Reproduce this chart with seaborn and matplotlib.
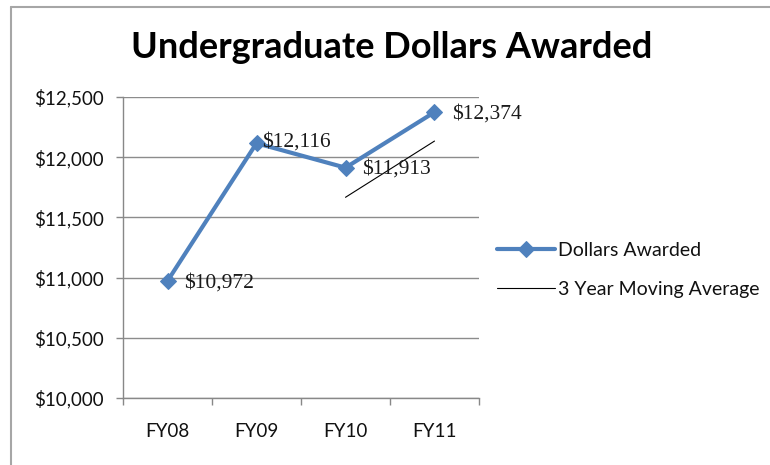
import matplotlib
matplotlib.use("Agg")
import matplotlib.pyplot as plt
import seaborn as sns
import pandas as pd
from matplotlib.lines import Line2D
from matplotlib.ticker import FuncFormatter

years = ["FY08", "FY09", "FY10", "FY11"]
dollars = [10972, 12116, 11913, 12374]
moving_avg_years = ["FY10", "FY11"]
moving_avg = [11667, 12134]
yticks = [10000, 10500, 11000, 11500, 12000, 12500]

sns.set_theme(style="white")
plt.rcParams['font.family'] = ['Lato', 'DejaVu Sans']

blue = "#4F81BD"
fig = plt.figure(figsize=(7.7, 4.65), dpi=100)
ax = fig.add_axes([123/770, 1-398/465, (479-123)/770, (398-97)/465])

x_idx = list(range(len(years)))
sns.lineplot(x=x_idx, y=dollars, ax=ax, color=blue, lw=3, marker="D",
             markersize=8.5, markeredgecolor=blue, label="Dollars Awarded", zorder=3)
ma_idx = [years.index(y) for y in moving_avg_years]
sns.lineplot(x=ma_idx, y=moving_avg, ax=ax, color="black", lw=0.8,
             label="3 Year Moving Average", zorder=2)

ax.set_xlim(-0.5, len(years)-0.5)
ax.set_ylim(10000, 12500)
ax.set_yticks(yticks)
ax.yaxis.set_major_formatter(FuncFormatter(lambda v, p: f"${v:,.0f}"))
ax.set_xticks(x_idx)
ax.set_xticklabels(years)
ax.set_xticks([i-0.5 for i in range(len(years)+1)], minor=True)
ax.tick_params(axis="x", which="major", length=0, pad=18, labelsize=13.5, labelcolor="#111111")
ax.tick_params(axis="x", which="minor", length=5, color="#888888", width=1, direction="out", bottom=True)
ax.tick_params(axis="y", length=5, color="#888888", width=1, direction="out", left=True,
               labelsize=13.5, pad=9, labelcolor="#111111")
ax.grid(axis="y", color="#8c8c8c", lw=1)
ax.set_axisbelow(True)
for s in ["top", "right"]:
    ax.spines[s].set_visible(False)
for s in ["left", "bottom"]:
    ax.spines[s].set_color("#888888")
    ax.spines[s].set_linewidth(1)
ax.set_xlabel("")
ax.set_ylabel("")

px = 0.72
offsets = [(17*px, -2*px), (6*px, 1*px), (17*px, -1*px), (18*px, -2*px)]
for i, v in enumerate(dollars):
    ax.annotate(f"${v:,}", (i, v), xytext=offsets[i], textcoords="offset points",
                ha="left", va="center", fontsize=15.5, family=["Liberation Serif"], color="#1a1a1a")

fig.text(392/770, 1-47/465, "Undergraduate Dollars Awarded", ha="center", va="center",
         fontsize=26, fontweight="bold", color="black")

leg = ax.legend(loc="center left", bbox_to_anchor=((497-123)/356, (398-270)/301), frameon=False,
                fontsize=14, handlelength=3.0, handletextpad=0.15, labelspacing=1.15,
                borderaxespad=0, borderpad=0)
for t in leg.get_texts():
    t.set_color("#111111")

fig.add_artist(Line2D([11/770, 11/770], [0, 1-7/465], color="#a6a6a6", lw=1.5))
fig.add_artist(Line2D([11/770, 1], [1-7/465, 1-7/465], color="#a6a6a6", lw=1.5))

fig.savefig("out.png", dpi=100, facecolor="white")
